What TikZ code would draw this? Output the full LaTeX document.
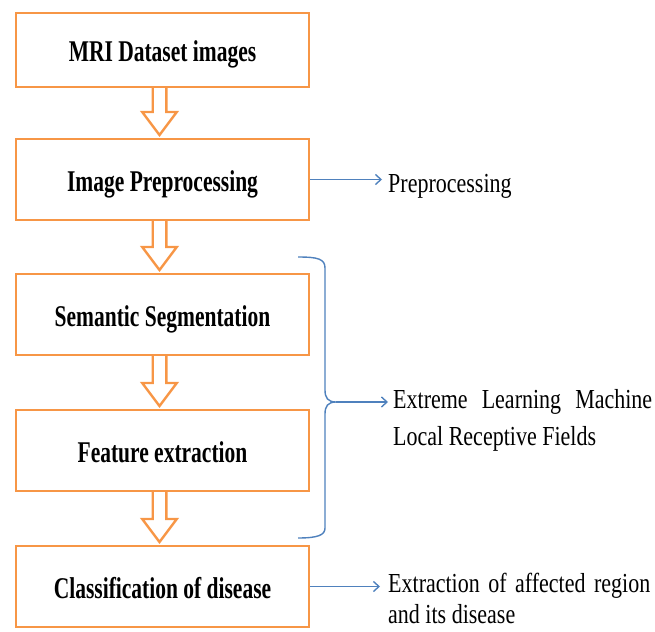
\documentclass[tikz,border=0pt]{standalone}
\usepackage{fontspec}
\setmainfont{Liberation Serif}
\usetikzlibrary{positioning,calc,arrows.meta}

\definecolor{boxorange}{HTML}{F79646}
\definecolor{linkblue}{HTML}{4F81BD}
% the text in the figure is stretched upwards
\newcommand{\tallb}[1]{\scalebox{1}[1.4]{#1}}
\newcommand{\tallr}[1]{\scalebox{1}[1.25]{#1}}

\begin{document}
\begin{tikzpicture}[x=1pt, y=-1pt,
  stepbox/.style={draw=boxorange, line width=2.4pt, minimum width=292.6pt, minimum height=80.6pt,
    inner sep=0pt, text height=30pt, text depth=6pt, font=\fontsize{21.5}{24}\selectfont\bfseries},
  flow/.style={draw=boxorange, line width=2.4pt},
  link/.style={draw=linkblue, line width=1.4pt},
  side/.style={inner sep=0pt, align=left, font=\fontsize{22}{37}\selectfont},
  >={Straight Barb[length=5.5pt,width=10pt]}]
  \useasboundingbox (0,0) rectangle (655,631);

  % draw the steps
  \node[stepbox, minimum height=73.6pt] (mri) at (162.5,50) {\tallb{MRI Dataset images}};
  \node[stepbox, below=50pt of mri] (pre) {\tallb{Image Preprocessing}};
  \node[stepbox, below=52pt of pre] (seg) {\tallb{Semantic Segmentation}};
  \node[stepbox, below=53pt of seg] (feat) {\tallb{Feature extraction}};
  \node[stepbox, below=53pt of feat] (cls) {\tallb{Classification of disease}};

  % draw hollow arrows between the steps
  \foreach \a/\b in {mri/pre, pre/seg, seg/feat, feat/cls}
    \draw[flow] ($(\a.south)+(-9.8,-1.2)$) -- ($(\b.north)+(-9.8,-26)$) -- ($(\b.north)+(-20.3,-26)$)
      -- ($(\b.north)+(-3,-3)$) -- ($(\b.north)+(14.3,-26)$) -- ($(\b.north)+(3.8,-26)$)
      -- ($(\a.south)+(3.8,-1.2)$);

  % draw side notes
  \node[side, anchor=north west] (pretxt) at (388,174.2) {\tallr{Preprocessing}};
  \node[side, anchor=north west] (elmtxt) at (393,389.2)
    {\tallr{\makebox[259pt][s]{Extreme Learning Machine}}\\\tallr{Local Receptive Fields}};
  \node[side, anchor=north west, font=\fontsize{22}{31}\selectfont] (clstxt) at (388,573)
    {\tallr{\makebox[262pt][s]{Extraction of affected region}}\\\tallr{and its disease}};

  % draw brace over segmentation and feature extraction
  \coordinate (btop) at (298,257);
  \coordinate (bmid) at (336,402);
  \coordinate (bbot) at (298,538);
  \draw[link] (btop) .. controls (318,257) and (325,259) .. (325,268) -- (325,390)
    .. controls (325,398) and (328,402) .. (bmid)
    .. controls (328,402) and (325,406) .. (325,414) -- (325,528)
    .. controls (325,535) and (318,538) .. (bbot);

  % draw links to the notes
  \draw[link, ->, shorten >=6pt] (pre.east) -- (pre.east -| pretxt.west);
  \draw[link, ->, shorten >=5pt] (bmid) -- (bmid -| elmtxt.west);
  \draw[link, ->, shorten >=8pt] (cls.east) -- (cls.east -| clstxt.west);
\end{tikzpicture}
\end{document}
